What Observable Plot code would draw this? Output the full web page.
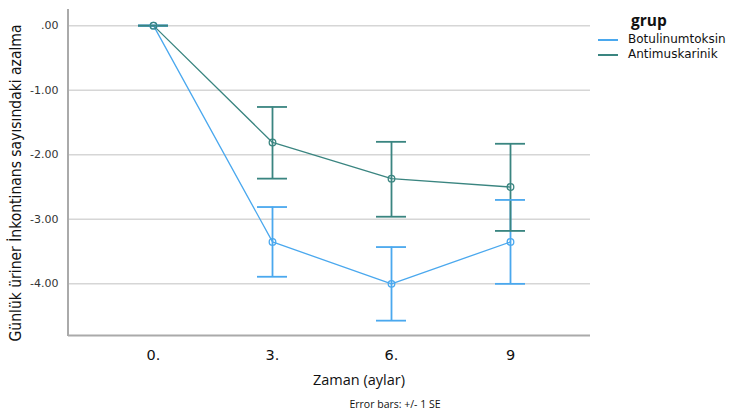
<!DOCTYPE html>
<html>
<head>
<meta charset="utf-8">
<script src="https://cdn.jsdelivr.net/npm/d3@7"></script>
<script src="https://cdn.jsdelivr.net/npm/@observablehq/plot@0.6"></script>
<style>
  body { margin: 0; background: #fff; }
  #wrap { position: relative; width: 732px; height: 413px; font-family: "DejaVu Sans", sans-serif; }
  #legend { position: absolute; left: 598px; top: 8px; font-family: "DejaVu Sans", sans-serif; color: #111; }
  #legend .title { font-family: "Open Sans", "DejaVu Sans", sans-serif; font-weight: bold; font-size: 15.5px; margin-left: 33px; line-height: 24px; }
  #legend .item { display: flex; align-items: center; font-size: 12px; line-height: 15px; height: 15px; }
  #legend .sw { width: 20px; height: 0; border-top: 2px solid; margin-right: 10px; }
</style>
</head>
<body>
<div id="wrap"></div>
<script>
const months = ["0.", "3.", "6.", "9"];
const groups = ["Botulinumtoksin", "Antimuskarinik"];
const botulinumMean = [0, -3.35, -4.00, -3.35];
const botulinumLow  = [0, -3.89, -4.57, -4.00];
const botulinumHigh = [0, -2.81, -3.43, -2.70];
const antimusMean = [0, -1.81, -2.37, -2.50];
const antimusLow  = [0, -2.37, -2.96, -3.18];
const antimusHigh = [0, -1.26, -1.80, -1.83];
const yTicks = [0, -1, -2, -3, -4];
const colors = ["#4aa8ee", "#3a8580"];
const yLabel = "Günlük üriner İnkontinans sayısındaki azalma";
const xLabel = "Zaman (aylar)";
const caption = "Error bars: +/- 1 SE";
const legendTitle = "grup";

const rows = [];
[[botulinumMean, botulinumLow, botulinumHigh], [antimusMean, antimusLow, antimusHigh]].forEach(([m, lo, hi], g) => {
  months.forEach((mo, i) => rows.push({month: mo, grup: groups[g], mean: m[i], low: lo[i], high: hi[i]}));
});

const fmt = v => v === 0 ? ".00" : d3.format(".2f")(v).replace("−", "-");

const W = 732, H = 413, ML = 68, MR = 142, MT = 9, MB = 78;

const chart = Plot.plot({
  width: W,
  height: H,
  marginLeft: ML,
  marginRight: MR,
  marginTop: MT,
  marginBottom: MB,
  style: {fontFamily: "DejaVu Sans, sans-serif", background: "#fff"},
  x: {type: "band", domain: months, paddingInner: 0.748, paddingOuter: 0.567, align: 0.515, label: null},
  y: {domain: [-4.8, 0.25], label: null},
  color: {domain: groups, range: colors},
  marks: [
    Plot.ruleY(yTicks, {stroke: "#d6d6d6", strokeWidth: 1.5}),
    Plot.ruleY([-4.8], {stroke: "#aaa", strokeWidth: 2}),
    Plot.line(rows, {x: "month", y: "mean", stroke: "grup", strokeWidth: 1.3, z: "grup"}),
    Plot.ruleX(rows, {x: "month", y1: "low", y2: "high", stroke: "grup", strokeWidth: 1.8}),
    Plot.tickY(rows, {x: "month", y: "low", stroke: "grup", strokeWidth: 1.8}),
    Plot.tickY(rows, {x: "month", y: "high", stroke: "grup", strokeWidth: 1.8}),
    Plot.dot(rows, {x: "month", y: "mean", stroke: "grup", r: 3.3, strokeWidth: 1.3, fill: "none"}),
    Plot.axisY(yTicks, {tickSize: 0, tickPadding: 10, tickFormat: fmt, fontSize: 11, fill: "#333", label: null}),
    Plot.axisX({tickSize: 0, tickPadding: 14, fontSize: 14.5, fill: "#111", label: null})
  ]
});

const svg = d3.select(chart);
// left axis line
svg.append("line").attr("x1", ML).attr("x2", ML).attr("y1", MT).attr("y2", H - MB + 1)
  .attr("stroke", "#aaa").attr("stroke-width", 2);
// y-axis title
svg.append("text").attr("transform", `translate(21,183) rotate(-90)`)
  .attr("text-anchor", "middle").attr("font-family", "Liberation Sans Narrow, DejaVu Sans Condensed, Open Sans, sans-serif")
  .attr("font-size", 15.5).attr("fill", "#111").text(yLabel);
// x-axis title
svg.append("text").attr("x", 359).attr("y", 385).attr("text-anchor", "middle")
  .attr("font-family", "Open Sans, DejaVu Sans, sans-serif").attr("font-size", 14.5).attr("fill", "#111").text(xLabel);
// caption
svg.append("text").attr("x", 395).attr("y", 408).attr("text-anchor", "middle")
  .attr("font-family", "Open Sans, DejaVu Sans, sans-serif").attr("font-size", 10.5).attr("fill", "#111").text(caption);

const wrap = document.getElementById("wrap");
wrap.appendChild(chart);

const legend = document.createElement("div");
legend.id = "legend";
legend.innerHTML = `<div class="title">${legendTitle}</div>` +
  groups.map((g, i) => `<div class="item"><span class="sw" style="border-color:${colors[i]}"></span><span class="lbl">${g}</span></div>`).join("");
wrap.appendChild(legend);
</script>
</body>
</html>
